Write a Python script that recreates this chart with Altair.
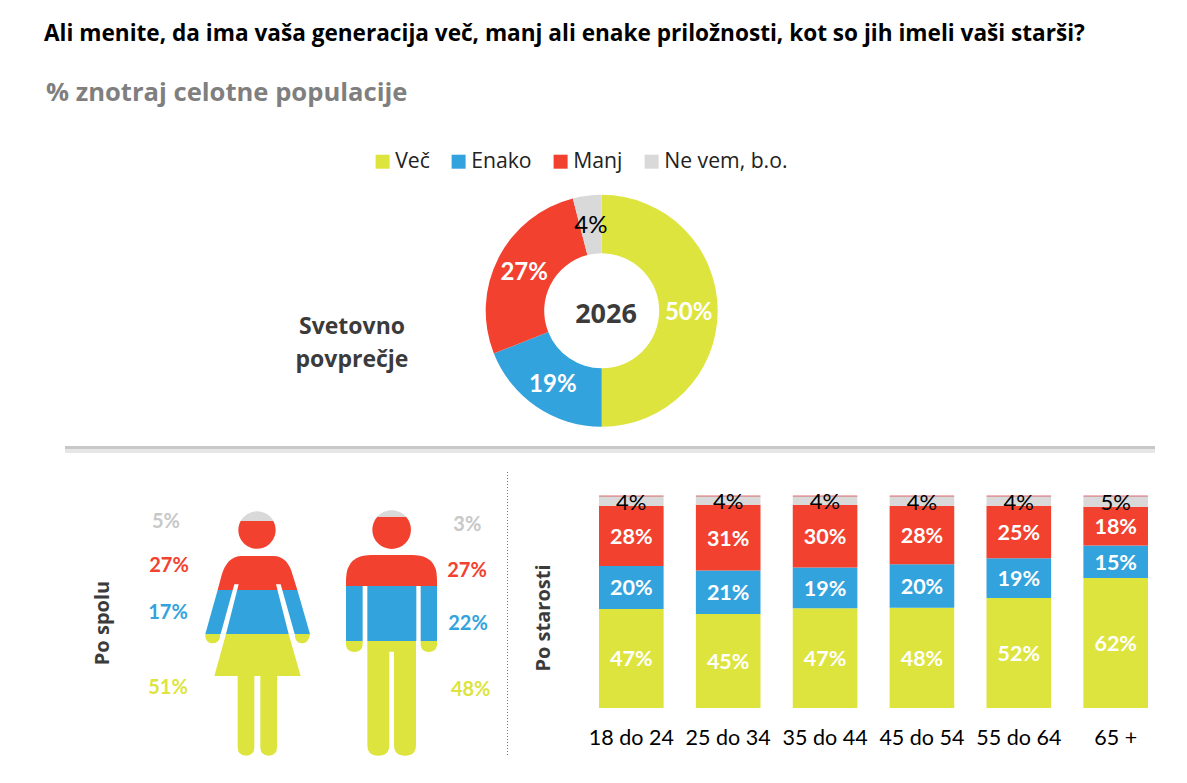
import altair as alt
import pandas as pd

answers = ["Več", "Enako", "Manj", "Ne vem, b.o."]
palette = ["#DDE43D", "#33A3DD", "#F2412F", "#D9D9D9"]
world_values = [50, 19, 27, 4]
world_labels_white = ["50%", "19%", "27%", ""]
world_labels_black = ["", "", "", "4%"]

ages = ["18 do 24", "25 do 34", "35 do 44", "45 do 54", "55 do 64", "65 +"]
age_vec = [46.7, 44.3, 47.0, 47.3, 51.9, 61.3]
age_enako = [20.3, 20.6, 19.3, 20.5, 18.7, 15.4]
age_manj = [28.3, 31.0, 29.5, 27.5, 24.8, 18.2]
age_nevem = [4.7, 4.1, 4.2, 4.7, 4.6, 5.1]
age_labels = [
    ["47%", "45%", "47%", "48%", "52%", "62%"],
    ["20%", "21%", "19%", "20%", "19%", "15%"],
    ["28%", "31%", "30%", "28%", "25%", "18%"],
    ["4%", "4%", "4%", "4%", "4%", "5%"],
]

woman_labels = ["51%", "17%", "27%", "5%"]
man_labels = ["48%", "22%", "27%", "3%"]

W, H = 1171, 767
OX, OY = 8, 8
SANS = "Open Sans"
CAL = "Lato"

color = alt.Color(
    "answer:N",
    scale=alt.Scale(domain=answers, range=palette),
    legend=alt.Legend(
        orient="none", legendX=372 - OX, legendY=151 - OY, direction="horizontal",
        title=None, symbolType="square", symbolSize=196, symbolStrokeWidth=0,
        labelFont=SANS, labelFontSize=21.2, labelColor="#222222", labelOffset=2,
        columnPadding=18, padding=0, labelLimit=300,
    ),
)


def text(label, x, y, size, col, weight="normal", font=SANS, align="center", angle=0):
    return alt.Chart(pd.DataFrame({"t": [label]})).mark_text(
        fontSize=size, color=col, fontWeight=weight, font=font,
        align=align, baseline="middle", angle=angle,
    ).encode(x=alt.value(x - OX), y=alt.value(y - OY), text="t:N")


# Donut
CX, CY = 601.7 - OX, 310.8 - OY
donut_df = pd.DataFrame({
    "answer": answers, "v": world_values, "o": range(4),
    "white": world_labels_white, "black": world_labels_black,
})
theta = alt.Theta("v:Q", stack=True)
donut = alt.Chart(donut_df).mark_arc(innerRadius=57.5, outerRadius=116).encode(
    theta=theta, order=alt.Order("o:Q"), color=color,
    x=alt.value(CX), y=alt.value(CY),
)
donut_white = alt.Chart(donut_df).mark_text(
    radius=87, fontSize=24, font=CAL, fontWeight="bold", baseline="middle", dy=2, color="#FFFFFF",
).encode(theta=theta, order=alt.Order("o:Q"), text="white:N", x=alt.value(CX), y=alt.value(CY))
donut_black = alt.Chart(donut_df).mark_text(
    radius=87, fontSize=24, font=CAL, baseline="middle", dy=2, color="#000000",
).encode(theta=theta, order=alt.Order("o:Q"), text="black:N", x=alt.value(CX), y=alt.value(CY))

# Age bars
rows = []
series = [age_vec, age_enako, age_manj, age_nevem]
for i, ans in enumerate(answers):
    for j, age in enumerate(ages):
        start = sum(series[k][j] for k in range(i))
        rows.append({
            "age": age, "answer": ans, "o": i, "v": series[i][j],
            "mid": start + series[i][j] / 2, "lab": age_labels[i][j],
        })
age_df = pd.DataFrame(rows)
BOTTOM, TOP = 708 - OY, 496 - OY
xs = alt.Scale(domain=ages, range=[599 - OX, 1148 - OX], paddingInner=0.333, paddingOuter=0)
ys = alt.Scale(domain=[0, 100], range=[BOTTOM, TOP])
x_enc = alt.X("age:N", sort=ages, scale=xs, title=None, axis=alt.Axis(
    orient="bottom", offset=BOTTOM - H, domain=False, ticks=False, labelAngle=0,
    labelFont=CAL, labelFontSize=21.5, labelColor="#000000", labelPadding=30,
    labelBaseline="middle", labelLimit=200, grid=False,
))
x_plain = alt.X("age:N", sort=ages, scale=xs, title=None)
bars = alt.Chart(age_df).mark_bar().encode(
    x=x_enc, y=alt.Y("v:Q", stack="zero", scale=ys, axis=None),
    order=alt.Order("o:Q"), color=color,
)
bar_top = alt.Chart(pd.DataFrame({"age": ages, "top": [100] * 6})).mark_tick(
    color="#D8303A", thickness=1, size=64.5
).encode(x=x_plain, y=alt.Y("top:Q", scale=ys, axis=None))
bar_text = alt.Chart(age_df[age_df.o < 3]).mark_text(
    fontSize=21.5, fontWeight="bold", font=CAL, color="#FFFFFF", baseline="middle", dy=2,
).encode(x=x_plain, y=alt.Y("mid:Q", scale=ys, axis=None), text="lab:N")
bar_text_g = alt.Chart(age_df[age_df.o == 3]).mark_text(
    fontSize=22, font=CAL, color="#000000", baseline="middle", dy=2,
).encode(x=x_plain, y=alt.Y("mid:Q", scale=ys, axis=None), text="lab:N")

# Pictograms: outlines in local icon units (1 unit = 1/3 px)
woman_shapes = {
    "Več": "M226 432 L270 432 L270 442 Q266 460 248 460 Q230 460 226 442 Z "
           "M495 432 L540 432 Q536 460 517 460 Q499 460 495 442 Z "
           "M288 432 L476 432 L512 558 L441 558 L441 772 Q441 797 416 797 Q391 797 391 772 L391 558 "
           "L373 558 L373 772 Q373 797 348 797 Q323 797 323 772 L323 558 L253 558 Z",
    "Enako": "M263 300 L502 300 L540 432 L226 432 Z",
    "Manj": "M332 93 L430 93 A56 56 0 1 1 332 93 Z "
            "M263 300 L275 255 Q292 198 335 198 L430 198 Q473 198 488 255 L502 300 Z",
    "Ne vem, b.o.": "M332 93 A56 56 0 0 1 430 93 Z",
}
man_shapes = {
    "Več": "M648 453 L698 453 L698 465 Q696 486 673 486 Q650 486 648 465 Z "
           "M872 453 L921 453 L921 465 Q919 486 896 486 Q874 486 872 465 Z "
           "M712 453 L858 453 L858 764 Q858 797 825 797 Q792 797 792 764 L792 485 L778 485 L778 764 "
           "Q778 797 745 797 Q712 797 712 764 Z",
    "Enako": "M648 288 L921 288 L921 453 L648 453 Z",
    "Manj": "M742 80 L828 80 A58 58 0 1 1 742 80 Z "
            "M648 288 L648 267 Q650 195 722 195 L848 195 Q921 195 921 267 L921 288 Z",
    "Ne vem, b.o.": "M742 80 A58 58 0 0 1 828 80 Z",
}
gaps = ("M313 283 L326 283 L288 432 L272 432 Z M438 283 L452 283 L494 432 L476 432 Z "
        "M698 288 L712 288 L712 453 L698 453 Z M859 288 L872 288 L872 453 L859 453 Z")
icon_df = pd.DataFrame(
    [{"answer": a, "p": s} for shapes in (woman_shapes, man_shapes) for a, s in shapes.items()]
)
icon_pos = dict(x=alt.value(130 - OX), y=alt.value(490 - OY), size=alt.value(4 / 9))
icons = alt.Chart(icon_df).mark_point(filled=True, opacity=1, strokeWidth=0).encode(
    shape=alt.Shape("p:N", scale=None), color=color, **icon_pos
)
icon_gaps = alt.Chart(pd.DataFrame({"p": [gaps]})).mark_point(
    filled=True, opacity=1, strokeWidth=0, color="#FFFFFF"
).encode(shape=alt.Shape("p:N", scale=None), **icon_pos)

# Rules
divider_soft = alt.Chart(pd.DataFrame({"a": [0]})).mark_rule(color="#E6E6E6", strokeWidth=6).encode(
    x=alt.value(65 - OX), x2=alt.value(1155 - OX), y=alt.value(450 - OY))
divider = alt.Chart(pd.DataFrame({"a": [0]})).mark_rule(color="#C8C8C8", strokeWidth=3).encode(
    x=alt.value(65 - OX), x2=alt.value(1155 - OX), y=alt.value(447.5 - OY))
dotted = alt.Chart(pd.DataFrame({"a": [0]})).mark_rule(color="#777777", strokeWidth=1, strokeDash=[1, 2]).encode(
    x=alt.value(507.5 - OX), y=alt.value(472 - OY), y2=alt.value(757 - OY))

DARK = "#3B3B3B"
texts = [
    text("Ali menite, da ima vaša generacija več, manj ali enake priložnosti, kot so jih imeli vaši starši?",
         44, 33.5, 22.6, "#000000", "bold", align="left"),
    text("% znotraj celotne populacije", 46, 92.5, 25.6, "#7F7F7F", "bold", align="left"),
    text("2026", 606, 314.5, 27, DARK, "bold"),
    text("Svetovno", 352, 327, 23, DARK, "bold"),
    text("povprečje", 352, 360, 23, DARK, "bold"),
    text("Po spolu", 102.5, 623, 20, DARK, "bold", angle=270),
    text("Po starosti", 543.5, 618, 20, DARK, "bold", angle=270),
]
woman_pos = [(168, 687.7), (168, 613.3), (169, 566), (166, 521.7)]
man_pos = [(470.7, 689.7), (468, 623.7), (467, 571.3), (467.3, 525.3)]
for labels, pos in ((woman_labels, woman_pos), (man_labels, man_pos)):
    for lab, (x, y), col in zip(labels, pos, ["#DDE43D", "#33A3DD", "#F2412F", "#C8C8C8"]):
        texts.append(text(lab, x, y, 20, col, "bold", font=CAL))

chart = alt.layer(
    divider_soft, divider, dotted, donut, donut_white, donut_black, bars, bar_top, bar_text, bar_text_g,
    icons, icon_gaps, *texts,
).properties(
    width=W, height=H, padding=0, autosize=alt.AutoSizeParams(type="none"),
).configure_view(stroke=None)

chart.save("out.html", embed_options={"renderer": "svg", "actions": False})
